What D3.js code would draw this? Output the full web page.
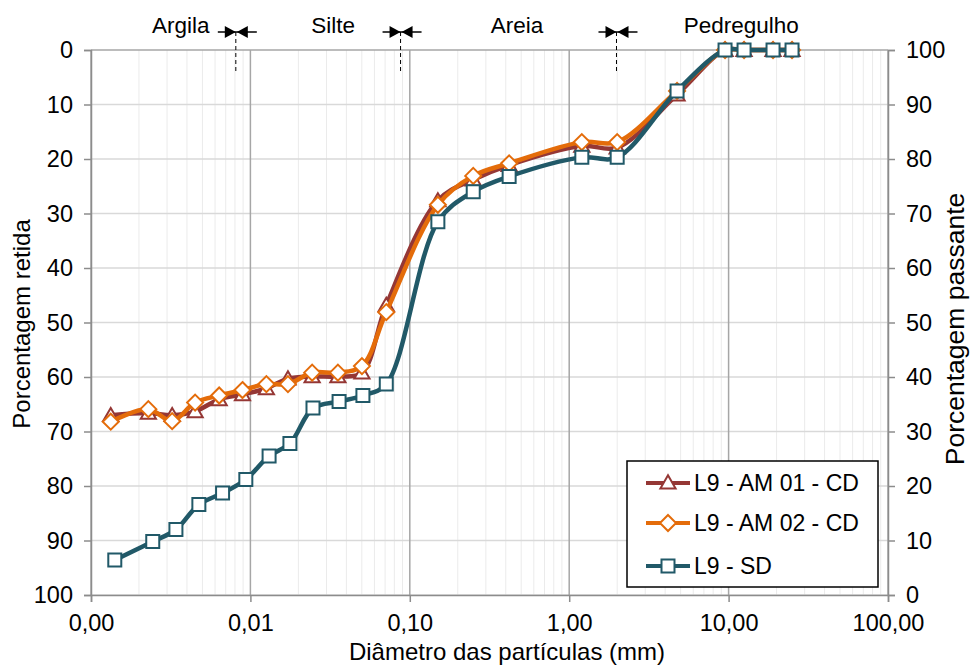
<!DOCTYPE html>
<html>
<head>
<meta charset="utf-8">
<script src="https://cdn.jsdelivr.net/npm/d3@7"></script>
<style>
  body { margin: 0; background: #fff; }
  text { font-family: "Liberation Sans", Arial, sans-serif; fill: #000; }
</style>
</head>
<body>
<div id="chart"></div>
<script>
// diameters (mm)
var xSed = [0.00141, 0.00244, 0.00341, 0.00475, 0.00669, 0.00936, 0.0131, 0.0177, 0.0247, 0.0360, 0.0508, 0.0712, 0.15, 0.25, 0.42, 1.2, 2.0, 4.75, 9.5, 12.5, 19, 25];
var xCd  = [0.00133, 0.00229, 0.00323, 0.00450, 0.00637, 0.00892, 0.0126, 0.0172, 0.0244, 0.0354, 0.0501, 0.0712, 0.15, 0.25, 0.42, 1.2, 2.0, 4.75, 9.5, 12.5, 19, 25];

// percentage retained
var am01 = [67.0, 66.6, 67.0, 66.3, 64.1, 63.2, 62.1, 60.3, 59.9, 59.9, 59.2, 46.8, 27.6, 23.8, 21.1, 17.6, 17.9, 8.2, 0, 0, 0, 0];
var am02 = [68.2, 65.9, 68.1, 64.7, 63.4, 62.4, 61.3, 61.3, 59.2, 59.2, 58.0, 48.1, 28.4, 23.1, 20.8, 16.9, 16.9, 7.5, 0, 0, 0, 0];
var sd   = [93.6, 90.2, 88.0, 83.4, 81.3, 78.8, 74.5, 72.2, 65.7, 64.5, 63.4, 61.3, 31.5, 26.0, 23.2, 19.7, 19.7, 7.5, 0, 0, 0, 0];

var seriesNames = ["L9 - AM 01 - CD", "L9 - AM 02 - CD", "L9 - SD"];
var xTicks = [0.001, 0.01, 0.1, 1, 10, 100];
var xTickLabels = ["0,00", "0,01", "0,10", "1,00", "10,00", "100,00"];
var yTicks = [0, 10, 20, 30, 40, 50, 60, 70, 80, 90, 100];

var classNames = ["Argila", "Silte", "Areia", "Pedregulho"];
var classCenters = [0.00366, 0.033, 0.47, 12.0];   // label positions (mm)
var classLimits = [0.0081, 0.0875, 1.98];          // boundary markers (mm)

var margin = {top: 50, right: 82, bottom: 71, left: 91};
var width = 970, height = 666;
var chartWidth = width - margin.left - margin.right;
var chartHeight = height - margin.top - margin.bottom;

var svg = d3.select('#chart').append('svg')
    .attr('width', width)
    .attr('height', height);

var g = svg.append('g')
    .attr('transform', `translate(${margin.left}, ${margin.top})`);

var xScale = d3.scaleLog().domain([0.001, 100]).range([0, chartWidth]);
var yScale = d3.scaleLinear().domain([0, 100]).range([0, chartHeight]);
var yRight = d3.scaleLinear().domain([100, 0]).range([0, chartHeight]);

// minor vertical grid
var minor = [];
[0.001, 0.01, 0.1, 1, 10].forEach(function(dec) {
  for (var k = 2; k <= 9; k++) minor.push(dec * k);
});
g.append('g').selectAll('line').data(minor).join('line')
    .attr('x1', d => xScale(d)).attr('x2', d => xScale(d))
    .attr('y1', 0).attr('y2', chartHeight)
    .attr('stroke', '#ebebeb').attr('stroke-width', 1);

// horizontal grid
g.append('g').selectAll('line').data(yTicks).join('line')
    .attr('x1', 0).attr('x2', chartWidth)
    .attr('y1', d => yScale(d)).attr('y2', d => yScale(d))
    .attr('stroke', d => d === 0 ? '#a6a6a6' : '#d9d9d9').attr('stroke-width', 1.5);

// major vertical grid
g.append('g').selectAll('line').data(xTicks).join('line')
    .attr('x1', d => xScale(d)).attr('x2', d => xScale(d))
    .attr('y1', 0).attr('y2', chartHeight)
    .attr('stroke', '#a6a6a6').attr('stroke-width', 1.5);

// axes
var xAxis = d3.axisBottom(xScale).tickValues(xTicks)
    .tickFormat((d, i) => xTickLabels[i]).tickSize(7).tickPadding(12);
var yAxis = d3.axisLeft(yScale).tickValues(yTicks).tickSize(7).tickPadding(11);
var yAxisR = d3.axisRight(yRight).tickValues(yTicks).tickSize(7).tickPadding(11);

function styleAxis(sel) {
  sel.selectAll('path').attr('stroke', '#8c8c8c').attr('stroke-width', 1.5);
  sel.selectAll('line').attr('stroke', '#8c8c8c').attr('stroke-width', 1.5);
  sel.selectAll('text').style('font-size', '23.5px')
    .style('font-family', '"Liberation Sans", Arial, sans-serif').attr('fill', '#000');
}

g.append('g').attr('transform', `translate(0,${chartHeight})`).call(xAxis).call(styleAxis);
g.append('g').call(yAxis).call(styleAxis);
g.append('g').attr('transform', `translate(${chartWidth},0)`).call(yAxisR).call(styleAxis);

// axis titles
svg.append('text')
    .attr('x', 507).attr('y', 660)
    .attr('text-anchor', 'middle').style('font-size', '24px')
    .text('Diâmetro das partículas (mm)');
svg.append('text')
    .attr('transform', 'translate(30, 324) rotate(-90)')
    .attr('text-anchor', 'middle').style('font-size', '24px')
    .text('Porcentagem retida');
svg.append('text')
    .attr('transform', 'translate(964, 329) rotate(-90)')
    .attr('text-anchor', 'middle').style('font-size', '26.5px')
    .text('Porcentagem passante');

// soil class labels and boundaries
svg.append('g').selectAll('text').data(classNames).join('text')
    .attr('x', (d, i) => margin.left + xScale(classCenters[i]))
    .attr('y', 33)
    .attr('text-anchor', 'middle').style('font-size', '22.5px')
    .text(d => d);

var lim = svg.append('g').selectAll('g').data(classLimits).join('g')
    .attr('transform', d => `translate(${margin.left + xScale(d)}, 32)`);
lim.append('line').attr('x1', -18).attr('x2', 21).attr('y1', 0).attr('y2', 0)
    .attr('stroke', '#000').attr('stroke-width', 1.5);
lim.append('path').attr('d', 'M-11,-6L0,0L-11,6Z').attr('fill', '#000');
lim.append('path').attr('d', 'M12,-6L1,0L12,6Z').attr('fill', '#000');
lim.append('line').attr('x1', 0).attr('x2', 0).attr('y1', 0).attr('y2', 40)
    .attr('stroke', '#000').attr('stroke-width', 1).attr('stroke-dasharray', '4,3');

// series
var series = [
  {name: seriesNames[0], xs: xCd, ys: am01, color: '#953735', marker: 'triangle'},
  {name: seriesNames[1], xs: xCd, ys: am02, color: '#E46C0A', marker: 'diamond'},
  {name: seriesNames[2], xs: xSed, ys: sd, color: '#215968', marker: 'square'}
];

var symbols = {
  triangle: d3.symbol().type(d3.symbolTriangle).size(100),
  diamond: 'M0,-8L8,0L0,8L-8,0Z',
  square: 'M-6.5,-6.5H6.5V6.5H-6.5Z'
};
function markerPath(m) {
  return typeof symbols[m] === 'string' ? symbols[m] : symbols[m]();
}

var line = d3.line()
    .x(d => xScale(d[0]))
    .y(d => yScale(d[1]))
    .curve(d3.curveCatmullRom.alpha(0.5));

series.forEach(function(s) {
  var pts = s.xs.map((x, i) => [x, s.ys[i]]);
  var sg = g.append('g');
  sg.append('path').datum(pts)
      .attr('d', line)
      .attr('fill', 'none')
      .attr('stroke', s.color)
      .attr('stroke-width', 4.5);
  sg.selectAll('path.m').data(pts).join('path')
      .attr('class', 'm')
      .attr('transform', d => `translate(${xScale(d[0])},${yScale(d[1]) + (s.marker === 'triangle' ? 1.5 : 0)})`)
      .attr('d', markerPath(s.marker))
      .attr('fill', '#fff')
      .attr('stroke', s.color)
      .attr('stroke-width', 2);
});

// legend
var legend = svg.append('g').attr('transform', 'translate(627,461)');
legend.append('rect').attr('width', 251).attr('height', 126)
    .attr('fill', '#fff').attr('stroke', '#000').attr('stroke-width', 1.5);
var rowY = [22, 62, 105];
var items = legend.selectAll('g.item').data(series).join('g')
    .attr('class', 'item')
    .attr('transform', (d, i) => `translate(0,${rowY[i]})`);
items.append('line').attr('x1', 19).attr('x2', 63).attr('y1', 0).attr('y2', 0)
    .attr('stroke', d => d.color).attr('stroke-width', 4);
items.append('path')
    .attr('transform', d => `translate(41,${d.marker === 'triangle' ? 1 : 0})`)
    .attr('d', d => markerPath(d.marker))
    .attr('fill', '#fff').attr('stroke', d => d.color).attr('stroke-width', 2);
items.append('text').attr('x', 67).attr('y', 0).attr('dy', '0.35em')
    .style('font-size', '23px')
    .text(d => d.name);
</script>
</body>
</html>
